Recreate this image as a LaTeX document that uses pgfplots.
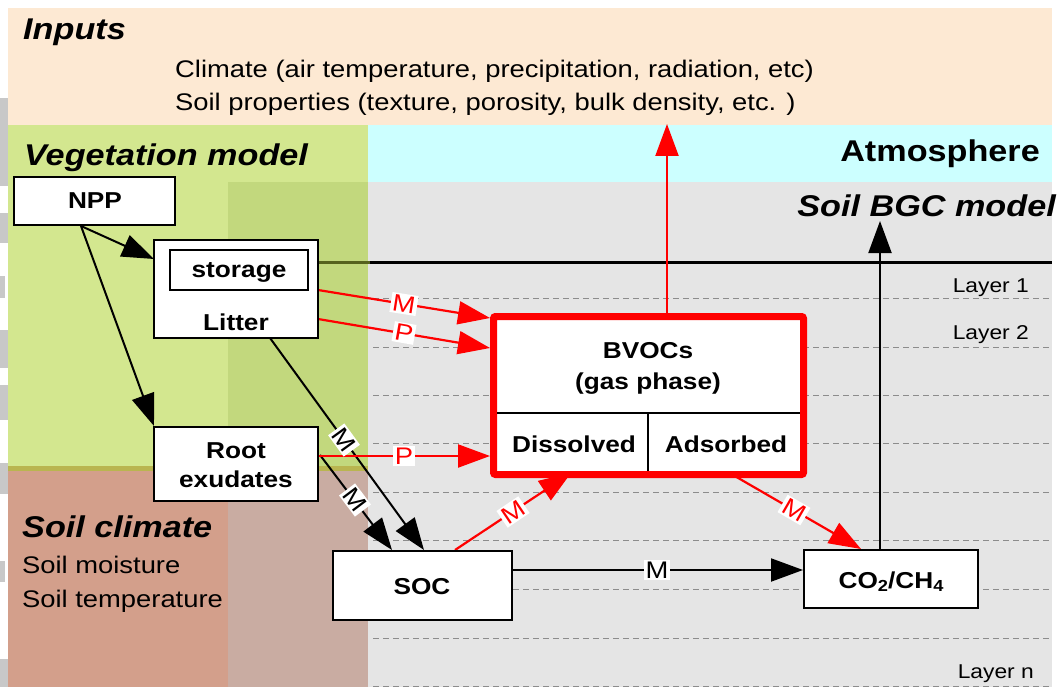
\documentclass[border=0pt]{standalone}
\usepackage{fontspec}
\setmainfont{Liberation Sans}[FakeStretch=1.14]
\usepackage{pgfplots}
\pgfplotsset{compat=1.18}
\usetikzlibrary{arrows.meta}
\definecolor{peach}{RGB}{253,233,211}
\definecolor{cyanbg}{RGB}{204,255,255}
\definecolor{greenbg}{RGB}{211,231,143}
\definecolor{greendk}{RGB}{194,216,125}
\definecolor{brownbg}{RGB}{211,159,139}
\definecolor{browndk}{RGB}{201,172,162}
\definecolor{graybg}{RGB}{229,229,229}
\definecolor{olive}{RGB}{185,181,80}
\definecolor{olivedk}{RGB}{86,98,30}
\definecolor{fragment}{RGB}{200,200,200}
\definecolor{dashc}{RGB}{140,140,140}
\newcommand{\fs}[1]{\fontsize{#1}{#1}\selectfont}
\tikzset{
  ba/.style={line width=2pt, -{Triangle[length=32pt,width=23pt]}},
  ra/.style={red, line width=2.2pt, -{Triangle[length=32pt,width=23pt]}},
  bx/.style={draw=black, line width=2.5pt, fill=white},
  lbl/.style={fill=white, inner sep=1.8pt, font=\fs{24}},
  dl/.style={draw=dashc, line width=1pt, dash pattern=on 6pt off 4pt},
}
\begin{document}
\begin{tikzpicture}
\begin{axis}[scale only axis, width=1060pt, height=687pt,
  xmin=0, xmax=1060, ymin=0, ymax=687, y dir=reverse,
  hide axis, clip=false]
% background
\fill[white] (0,0) rectangle (1060,687);
\fill[peach] (8,8) rectangle (1052,125);
\fill[greenbg] (8,125) rectangle (228,467);
\fill[greendk] (228,182) rectangle (368,467);
\fill[greenbg] (228,125) rectangle (368,182);
\fill[cyanbg] (368,125) rectangle (1052,182);
\fill[graybg] (368,182) rectangle (1052,687);
\fill[brownbg] (8,471) rectangle (228,687);
\fill[browndk] (228,471) rectangle (368,687);
\fill[olive] (8,466) rectangle (368,471);
% left-edge fragments
\fill[fragment] (0,98) rectangle (8,186);
\fill[fragment] (0,213) rectangle (8,243);
\fill[fragment] (0,276) rectangle (5,298);
\fill[fragment] (0,330) rectangle (8,368);
\fill[fragment] (0,385) rectangle (8,420);
\fill[fragment] (0,463) rectangle (8,494);
\fill[fragment] (0,561) rectangle (5,582);
\fill[fragment] (0,659) rectangle (8,687);
% layer lines
\draw[dl] (373,298) -- (1052,298);
\draw[dl] (373,347) -- (1052,347);
\draw[dl] (373,395) -- (1052,395);
\draw[dl] (373,443) -- (1052,443);
\draw[dl] (373,492) -- (1052,492);
\draw[dl] (373,540) -- (1052,540);
\draw[dl] (373,589) -- (1052,589);
\draw[dl] (373,638) -- (1052,638);
\draw[dl] (373,686) -- (1052,686);
\draw[olivedk, line width=3pt] (318,262) -- (370,262);
\draw[black, line width=3pt] (370,262) -- (1052,262);
% texts
\node[anchor=base west, font=\fs{30}\bfseries\itshape, inner sep=0] at (23,40) {Inputs};
\node[anchor=base west, font=\fs{24}, inner sep=0] at (175,78) {Climate (air temperature, precipitation, radiation, etc)};
\node[anchor=base west, font=\fs{24}, inner sep=0] at (175,111) {Soil properties (texture, porosity, bulk density, etc. )};
\node[anchor=base west, font=\fs{30}\bfseries\itshape, inner sep=0] at (24,166) {Vegetation model};
\node[anchor=base east, font=\fs{30}\bfseries, inner sep=0] at (1040,162) {Atmosphere};
\node[anchor=base east, font=\fs{30}\bfseries\itshape, inner sep=0] at (1056,217) {Soil BGC model};
\node[anchor=base west, font=\fs{30}\bfseries\itshape, inner sep=0] at (22,537) {Soil climate};
\node[anchor=base west, font=\fs{24}, inner sep=0] at (22,573) {Soil moisture};
\node[anchor=base west, font=\fs{24}, inner sep=0] at (22,607) {Soil temperature};
\node[anchor=base east, font=\fs{20}, inner sep=0] at (1029,292) {Layer 1};
\node[anchor=base east, font=\fs{20}, inner sep=0] at (1029,339) {Layer 2};
\node[anchor=base east, font=\fs{20}, inner sep=0] at (1034,678) {Layer n};
% arrows black
\draw[ba] (81,226) -- (154,259);
\draw[ba] (81,226) -- (154,426);
\draw[ba] (270,338) -- (424,550);
\draw[ba] (320,455) -- (392,550);
\draw[ba] (512,570) -- (803,570);
\draw[ba] (880,550) -- (880,221);
% arrows red
\draw[ra] (318,290) -- (490,318);
\draw[ra] (318,319) -- (490,348);
\draw[ra] (318,456) -- (490,456);
\draw[ra] (455,550) -- (571,473);
\draw[ra] (733,475) -- (861,549);
\draw[ra] (667,313) -- (667,124);
% boxes
\draw[bx] (14,177) rectangle (175,225);
\draw[bx] (154,240) rectangle (318,338);
\draw[bx] (170,250) rectangle (308,290);
\draw[bx] (154,427) rectangle (318,501);
\draw[bx] (333,551) rectangle (512,620);
\draw[bx] (804,550) rectangle (978,608);
\draw[red, line width=7pt, fill=white, rounded corners=2pt] (493.5,316.5) rectangle (803.5,474.5);
\draw[black, line width=2pt] (497,413) -- (800,413);
\draw[black, line width=2pt] (648,413) -- (648,471);
% box texts
\node[anchor=base, font=\fs{23}\bfseries, inner sep=0] at (95,209) {NPP};
\node[anchor=base, font=\fs{23}\bfseries, inner sep=0] at (239,277) {storage};
\node[anchor=base, font=\fs{23}\bfseries, inner sep=0] at (236,330) {Litter};
\node[anchor=base, font=\fs{23}\bfseries, inner sep=0] at (236,458) {Root};
\node[anchor=base, font=\fs{23}\bfseries, inner sep=0] at (236,487) {exudates};
\node[anchor=base, font=\fs{23}\bfseries, inner sep=0] at (422,594) {SOC};
\node[anchor=base, font=\fs{23}\bfseries, inner sep=0] at (891,588) {CO\raisebox{-0.3ex}{\fs{16}2}/CH\raisebox{-0.3ex}{\fs{16}4}};
\node[anchor=base, font=\fs{23}\bfseries, inner sep=0] at (648,358) {BVOCs};
\node[anchor=base, font=\fs{23}\bfseries, inner sep=0] at (648,389) {(gas phase)};
\node[anchor=base, font=\fs{23}\bfseries, inner sep=0] at (574,452) {Dissolved};
\node[anchor=base, font=\fs{23}\bfseries, inner sep=0] at (726,452) {Adsorbed};
% arrow labels
\node[lbl, text=red, rotate=-9] at (404,304) {M};
\node[lbl, text=red, rotate=-10] at (404,333) {P};
\node[lbl, text=red] at (404,456) {P};
\node[lbl, rotate=-54] at (344,440) {M};
\node[lbl, rotate=-53] at (355,500) {M};
\node[lbl, text=red, rotate=34] at (513,512) {M};
\node[lbl, text=red, rotate=-30] at (794,510) {M};
\node[lbl] at (657,570) {M};
\end{axis}
\end{tikzpicture}
\end{document}
